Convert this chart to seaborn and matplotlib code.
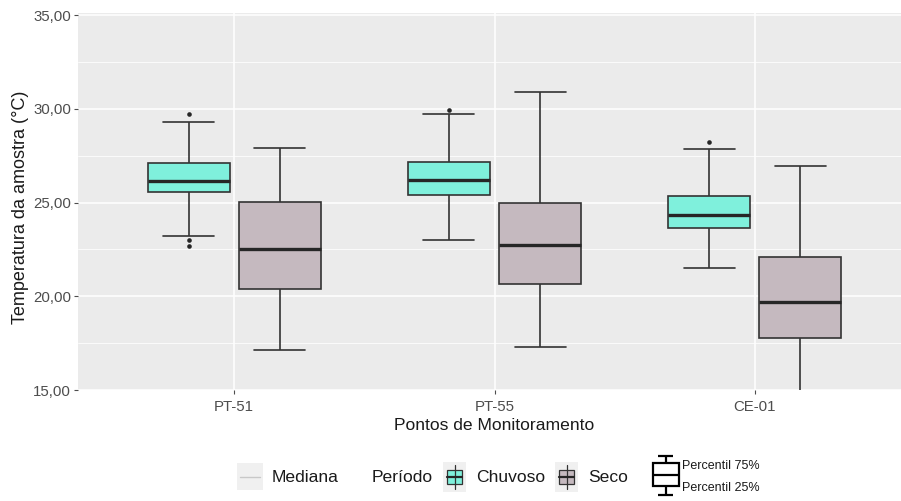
import numpy as np
import pandas as pd
import matplotlib
matplotlib.use("Agg")
import matplotlib.pyplot as plt
import seaborn as sns
from matplotlib.ticker import FixedLocator, FuncFormatter
from matplotlib.patches import Rectangle
from matplotlib.lines import Line2D

# Monitoring points and sampling periods
pontos = ["PT-51", "PT-55", "CE-01"]
periodos = ["Chuvoso", "Seco"]

# Five-number summaries per point: lower whisker, Q1, median, Q3, upper whisker (°C)
chuvoso_pt51 = [23.23, 25.55, 26.13, 27.11, 29.32]
chuvoso_pt55 = [23.01, 25.41, 26.22, 27.16, 29.72]
chuvoso_ce01 = [21.53, 23.63, 24.31, 25.34, 27.85]
seco_pt51 = [17.13, 20.41, 22.52, 25.02, 27.91]
seco_pt55 = [17.30, 20.64, 22.73, 25.00, 30.92]
seco_ce01 = [13.80, 17.80, 19.72, 22.09, 26.93]

# Observations beyond the whiskers
outlier_ponto = ["PT-51", "PT-51", "PT-51", "PT-55", "CE-01"]
outlier_periodo = ["Chuvoso", "Chuvoso", "Chuvoso", "Chuvoso", "Chuvoso"]
outlier_valor = [29.72, 23.01, 22.70, 29.93, 28.24]

# Y axis ticks
y_ticks = [15, 20, 25, 30, 35]

cores = {"Chuvoso": "#7FF0DC", "Seco": "#C5B9BF"}
cor_linha = "#333333"
cor_texto = "#1A1A1A"

resumos = {
    ("PT-51", "Chuvoso"): chuvoso_pt51, ("PT-55", "Chuvoso"): chuvoso_pt55,
    ("CE-01", "Chuvoso"): chuvoso_ce01, ("PT-51", "Seco"): seco_pt51,
    ("PT-55", "Seco"): seco_pt55, ("CE-01", "Seco"): seco_ce01,
}
linhas = [(p, per, v) for (p, per), vals in resumos.items() for v in vals]
df = pd.DataFrame(linhas, columns=["ponto", "periodo", "temp"])

sns.set_theme(style="white")
plt.rcParams["font.family"] = ["Liberation Sans", "DejaVu Sans"]

W, H = 901, 501
fig = plt.figure(figsize=(W / 100, H / 100), dpi=100)
fig.patch.set_facecolor("white")

# panel in pixel units: x 78..911 (past right edge), y 13..390
px_l, px_r, px_t, px_b = 78, 911, 13, 390
ax = fig.add_axes([px_l / W, 1 - px_b / H, (px_r - px_l) / W, (px_b - px_t) / H])
ax.set_facecolor("#EBEBEB")

box_width = 0.7
sns.boxplot(
    data=df, x="ponto", y="temp", hue="periodo",
    order=pontos, hue_order=periodos, palette=cores, saturation=1,
    width=box_width, gap=0.1, whis=(0, 100), fliersize=0,
    linecolor=cor_linha, linewidth=1.2,
    medianprops=dict(color="#262626", linewidth=2.4),
    capwidths=0.196, legend=False, ax=ax, zorder=3,
)

# outlier points placed at the dodged box positions
offset = {"Chuvoso": -box_width / 4, "Seco": box_width / 4}
out_x = [pontos.index(p) + offset[per] for p, per in zip(outlier_ponto, outlier_periodo)]
sns.scatterplot(x=out_x, y=outlier_valor, color="#262626", s=11, linewidth=0,
                ax=ax, legend=False, zorder=4)

ax.set_xlim(-0.6, 2.6)
ax.set_ylim(15, 35.11)
ax.yaxis.set_major_locator(FixedLocator(y_ticks))
ax.yaxis.set_minor_locator(FixedLocator([17.5, 22.5, 27.5, 32.5]))
ax.yaxis.set_major_formatter(FuncFormatter(lambda v, _: f"{v:.2f}".replace(".", ",")))
ax.grid(True, which="major", color="white", linewidth=1.1, zorder=0)
ax.grid(True, which="minor", axis="y", color="white", linewidth=0.55, zorder=0)
ax.set_axisbelow(True)
for s in ax.spines.values():
    s.set_visible(False)
ax.tick_params(axis="both", which="major", length=3, width=0.8, color="#4D4D4D",
               labelcolor="#4D4D4D", labelsize=10.8, bottom=True, left=True)
ax.tick_params(axis="x", which="major", pad=4)
ax.tick_params(axis="y", which="major", pad=2)
ax.tick_params(axis="y", which="minor", length=0)
ax.set_xlabel("Pontos de Monitoramento", fontsize=12.6, color=cor_texto, labelpad=3)
ax.set_ylabel("Temperatura da amostra (°C)", fontsize=13, color=cor_texto, labelpad=3)
ax.yaxis.label.set_y(0.485)

# legend row drawn in figure pixel coordinates
lg = fig.add_axes([0, 0, 1, 1], facecolor="none")
lg.set_xlim(0, W)
lg.set_ylim(H, 0)
lg.axis("off")

def chave_caixa(x0, y0, w, h, cor):
    lg.add_patch(Rectangle((x0, y0), w, h, facecolor="#F0F0F0", edgecolor="none"))
    cx = x0 + w / 2
    lg.add_line(Line2D([cx, cx], [y0 + 3, y0 + h - 3], color=cor_linha, lw=0.9))
    lg.add_patch(Rectangle((x0 + 4, y0 + 8), w - 8, h - 16, facecolor=cor,
                           edgecolor=cor_linha, lw=0.9))
    lg.add_line(Line2D([x0 + 4, x0 + w - 4], [y0 + h / 2, y0 + h / 2], color="#262626", lw=1.6))

# Mediana
lg.add_patch(Rectangle((237, 463), 26, 27, facecolor="#F0F0F0", edgecolor="none"))
lg.add_line(Line2D([240, 260], [477, 477], color="#C8C8C8", lw=1.0))
fs_leg = 12.6
lg.text(272, 478, "Mediana", fontsize=fs_leg, color=cor_texto, va="center", ha="left")
lg.text(372, 478, "Período", fontsize=fs_leg, color=cor_texto, va="center", ha="left")
chave_caixa(443, 462, 23, 30, cores["Chuvoso"])
lg.text(476, 478, "Chuvoso", fontsize=fs_leg, color=cor_texto, va="center", ha="left")
chave_caixa(555, 462, 23, 30, cores["Seco"])
lg.text(588, 478, "Seco", fontsize=fs_leg, color=cor_texto, va="center", ha="left")

# percentile key
k = dict(color="black", lw=1.6, solid_capstyle="butt")
lg.add_line(Line2D([658, 673], [456, 456], **k))
lg.add_line(Line2D([665.5, 665.5], [456, 463], **k))
lg.add_patch(Rectangle((653, 463), 26, 23, facecolor="white", edgecolor="black", lw=1.6))
lg.add_line(Line2D([653, 679], [475, 475], **k))
lg.add_line(Line2D([665.5, 665.5], [486, 495], **k))
lg.add_line(Line2D([658, 673], [495, 495], **k))
lg.text(682, 466, "Percentil 75%", fontsize=9, color=cor_texto, va="center", ha="left")
lg.text(682, 488, "Percentil 25%", fontsize=9, color=cor_texto, va="center", ha="left")

fig.savefig("out.png", dpi=100)
